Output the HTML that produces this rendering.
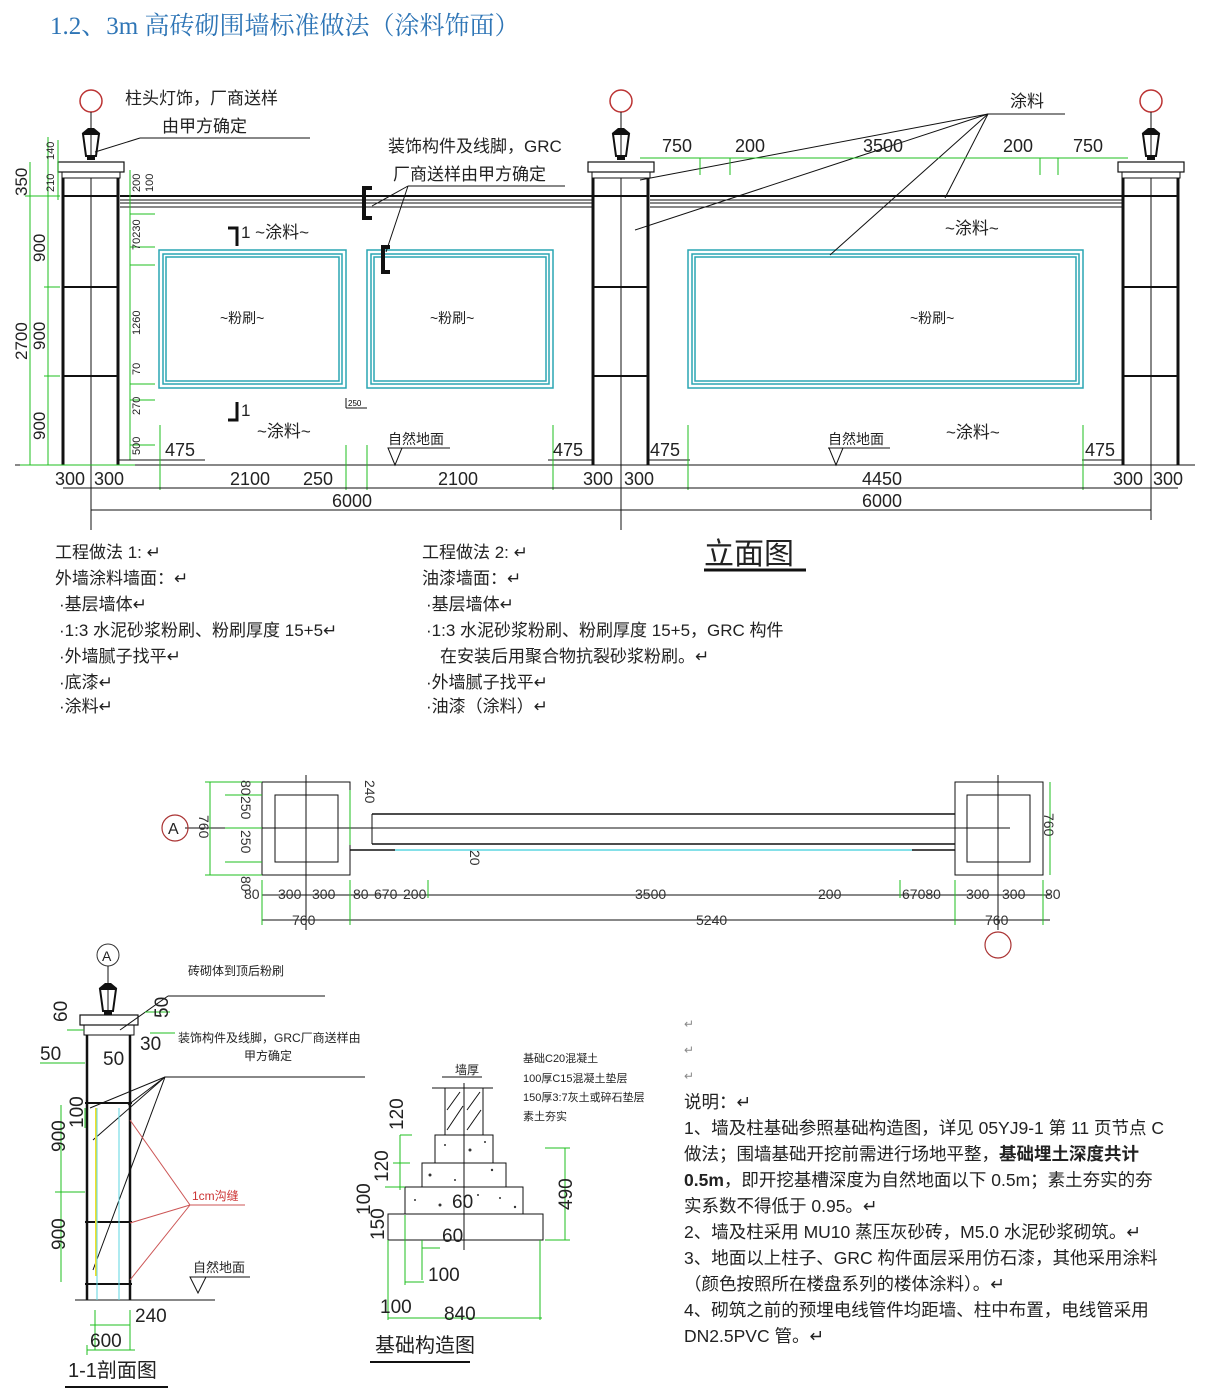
<!DOCTYPE html>
<html><head><meta charset="utf-8"><style>
html,body{margin:0;padding:0;background:#fff;}
svg{display:block;}
text{font-family:"Liberation Sans","Noto Sans CJK SC",sans-serif;}
.g{stroke:#1fbf1f;stroke-width:1;fill:none}
.k{stroke:#111;fill:none}
.c{stroke:#2aa6b3;fill:none;stroke-width:1.5}
.t{font-size:17px;fill:#222}
.d{font-size:18px;fill:#222}
.s{font-size:14px;fill:#222}
</style></head><body>
<svg width="1217" height="1397" viewBox="0 0 1217 1397" xmlns="http://www.w3.org/2000/svg">
<defs>
<g id="lampb">
<line x1="0" y1="-8" x2="0" y2="-2" stroke="#111"/>
<path d="M-3,-5 L3,-5 L9,0 L-9,0 Z" fill="#111"/>
<path d="M-8,1 L8,1 L5,23 L-5,23 Z" fill="none" stroke="#111" stroke-width="2"/>
<line x1="0" y1="1" x2="0" y2="23" stroke="#111"/>
<rect x="-4" y="23" width="8" height="4" fill="#111"/>
</g>
<g id="lamp">
<circle cx="0" cy="-32" r="11" fill="none" stroke="#b33" stroke-width="1.5"/>
<line x1="0" y1="-21" x2="0" y2="-2" stroke="#111"/>
<use href="#lampb"/>
</g>
</defs>

<text x="50" y="34" style="font-family:'Liberation Serif','Noto Serif CJK SC',serif;font-size:25px;fill:#2e75b6">1.2、3m 高砖砌围墙标准做法（涂料饰面）</text>

<!-- ELEVATION -->
<g>
<line x1="15" y1="465" x2="1195" y2="465" class="k"/>
<g class="k">
<line x1="120" y1="196" x2="592" y2="196" stroke-width="2"/>
<line x1="120" y1="200" x2="592" y2="200"/>
<line x1="120" y1="203" x2="592" y2="203"/>
<line x1="120" y1="207" x2="592" y2="207"/>
<line x1="650" y1="196" x2="1122" y2="196" stroke-width="2"/>
<line x1="650" y1="200" x2="1122" y2="200"/>
<line x1="650" y1="203" x2="1122" y2="203"/>
<line x1="650" y1="207" x2="1122" y2="207"/>
</g>
<g class="k">
<rect x="58" y="162" width="66" height="10" stroke-width="1.2"/>
<rect x="62" y="172" width="58" height="6"/>
<line x1="63" y1="178" x2="63" y2="465" stroke-width="3"/>
<line x1="118" y1="178" x2="118" y2="465" stroke-width="3"/>
<line x1="63" y1="196" x2="118" y2="196" stroke-width="2"/>
<line x1="63" y1="287" x2="118" y2="287" stroke-width="2"/>
<line x1="63" y1="376" x2="118" y2="376" stroke-width="2"/>
<line x1="91" y1="178" x2="91" y2="465"/>

<rect x="588" y="162" width="66" height="10" stroke-width="1.2"/>
<rect x="592" y="172" width="58" height="6"/>
<line x1="593" y1="178" x2="593" y2="465" stroke-width="3"/>
<line x1="648" y1="178" x2="648" y2="465" stroke-width="3"/>
<line x1="593" y1="196" x2="648" y2="196" stroke-width="2"/>
<line x1="593" y1="287" x2="648" y2="287" stroke-width="2"/>
<line x1="593" y1="376" x2="648" y2="376" stroke-width="2"/>
<line x1="621" y1="178" x2="621" y2="530"/>

<rect x="1118" y="162" width="66" height="10" stroke-width="1.2"/>
<rect x="1122" y="172" width="58" height="6"/>
<line x1="1123" y1="178" x2="1123" y2="465" stroke-width="3"/>
<line x1="1178" y1="178" x2="1178" y2="465" stroke-width="3"/>
<line x1="1123" y1="196" x2="1178" y2="196" stroke-width="2"/>
<line x1="1123" y1="287" x2="1178" y2="287" stroke-width="2"/>
<line x1="1123" y1="376" x2="1178" y2="376" stroke-width="2"/>
<line x1="1151" y1="178" x2="1151" y2="465"/>
<line x1="91" y1="465" x2="91" y2="530"/>
</g>
<use href="#lamp" x="91" y="133"/>
<use href="#lamp" x="621" y="133"/>
<use href="#lamp" x="1151" y="133"/>

<rect x="159" y="250" width="187" height="138" class="c"/>
<rect x="163" y="254" width="179" height="130" class="c" stroke-width="1"/>
<rect x="166" y="257" width="173" height="124" class="c"/>
<rect x="367" y="250" width="186" height="138" class="c"/>
<rect x="371" y="254" width="178" height="130" class="c" stroke-width="1"/>
<rect x="374" y="257" width="172" height="124" class="c"/>
<rect x="688" y="250" width="395" height="138" class="c"/>
<rect x="692" y="254" width="387" height="130" class="c" stroke-width="1"/>
<rect x="695" y="257" width="381" height="124" class="c"/>

<path d="M372,188 L364,188 L364,218 L372,218" class="k" stroke-width="4"/>
<path d="M390,247 L383,247 L383,272 L390,272" class="k" stroke-width="4"/>
<line x1="372" y1="206" x2="408" y2="186" class="k"/>
<line x1="386" y1="252" x2="408" y2="186" class="k"/>
<line x1="408" y1="186" x2="565" y2="186" class="k"/>
<text x="388" y="152" class="t">装饰构件及线脚，GRC</text>
<text x="393" y="180" class="t">厂商送样由甲方确定</text>

<text x="125" y="104" class="t">柱头灯饰，厂商送样</text>
<text x="162" y="132" class="t">由甲方确定</text>
<line x1="95" y1="152" x2="140" y2="138" class="k"/>
<line x1="140" y1="138" x2="310" y2="138" class="k"/>

<text x="1010" y="107" class="t">涂料</text>
<line x1="988" y1="114" x2="1065" y2="114" class="k"/>
<g class="k">
<line x1="988" y1="114" x2="640" y2="180"/>
<line x1="988" y1="114" x2="635" y2="230"/>
<line x1="988" y1="114" x2="830" y2="255"/>
<line x1="988" y1="114" x2="945" y2="198"/>
</g>

<path d="M228,228 L237,228 L237,246" class="k" stroke-width="3"/>
<path d="M228,420 L237,420 L237,402" class="k" stroke-width="3"/>
<text x="241" y="238" class="t">1 ~涂料~</text>
<text x="241" y="416" class="t">1</text>
<text x="257" y="437" class="t">~涂料~</text>
<text x="945" y="234" class="t">~涂料~</text>
<text x="946" y="438" class="t">~涂料~</text>
<text x="220" y="323" class="s">~粉刷~</text>
<text x="430" y="323" class="s">~粉刷~</text>
<text x="910" y="323" class="s">~粉刷~</text>

<text x="388" y="444" class="s">自然地面</text>
<line x1="388" y1="448" x2="450" y2="448" class="k"/>
<path d="M388,448 L402,448 L395,465 Z" class="k"/>
<text x="828" y="444" class="s">自然地面</text>
<line x1="828" y1="448" x2="890" y2="448" class="k"/>
<path d="M829,448 L843,448 L836,465 Z" class="k"/>

<line x1="346" y1="398" x2="346" y2="408" class="k"/>
<line x1="346" y1="408" x2="367" y2="408" class="k"/>
<text x="348" y="406" style="font-size:8px">250</text>

<g class="g">
<line x1="30" y1="162" x2="30" y2="465"/>
<line x1="48" y1="137" x2="48" y2="465"/>
<line x1="58" y1="140" x2="58" y2="200"/>
<line x1="130" y1="170" x2="130" y2="460"/>
<line x1="25" y1="196" x2="60" y2="196"/>
<line x1="44" y1="287" x2="60" y2="287"/>
<line x1="44" y1="376" x2="60" y2="376"/>
<line x1="130" y1="214" x2="155" y2="214"/>
<line x1="130" y1="247" x2="155" y2="247"/>
<line x1="130" y1="265" x2="155" y2="265"/>
<line x1="130" y1="384" x2="155" y2="384"/>
<line x1="130" y1="400" x2="155" y2="400"/>
<line x1="130" y1="445" x2="155" y2="445"/>
<line x1="20" y1="465" x2="135" y2="465"/>
</g>
<g style="font-size:17px;fill:#222">
<text transform="translate(27,196) rotate(-90)">350</text>
<text transform="translate(45,262) rotate(-90)">900</text>
<text transform="translate(27,360) rotate(-90)">2700</text>
<text transform="translate(45,350) rotate(-90)">900</text>
<text transform="translate(45,440) rotate(-90)">900</text>
</g>
<g style="font-size:11px;fill:#222">
<text transform="translate(54,160) rotate(-90)">140</text>
<text transform="translate(54,192) rotate(-90)">210</text>
<text transform="translate(140,192) rotate(-90)">200</text>
<text transform="translate(153,192) rotate(-90)">100</text>
<text transform="translate(140,250) rotate(-90)">70230</text>
<text transform="translate(140,335) rotate(-90)">1260</text>
<text transform="translate(140,375) rotate(-90)">70</text>
<text transform="translate(140,415) rotate(-90)">270</text>
<text transform="translate(140,455) rotate(-90)">500</text>
</g>

<g class="k">
<line x1="118" y1="460" x2="205" y2="460"/>
<line x1="548" y1="460" x2="593" y2="460"/>
<line x1="648" y1="460" x2="690" y2="460"/>
<line x1="1082" y1="460" x2="1123" y2="460"/>
</g>
<text x="165" y="456" class="d">475</text>
<text x="553" y="456" class="d">475</text>
<text x="650" y="456" class="d">475</text>
<text x="1085" y="456" class="d">475</text>

<g class="g">
<line x1="160" y1="425" x2="160" y2="490"/>
<line x1="346" y1="445" x2="346" y2="490"/>
<line x1="367" y1="445" x2="367" y2="490"/>
<line x1="553" y1="425" x2="553" y2="490"/>
<line x1="688" y1="425" x2="688" y2="490"/>
<line x1="1083" y1="425" x2="1083" y2="490"/>
<line x1="640" y1="158" x2="1128" y2="158"/>
<line x1="700" y1="158" x2="700" y2="175"/>
<line x1="730" y1="158" x2="730" y2="175"/>
<line x1="1040" y1="158" x2="1040" y2="175"/>
<line x1="1058" y1="158" x2="1058" y2="175"/>
</g>
<text x="662" y="152" class="d">750</text>
<text x="735" y="152" class="d">200</text>
<text x="863" y="152" class="d">3500</text>
<text x="1003" y="152" class="d">200</text>
<text x="1073" y="152" class="d">750</text>

<g class="k">
<line x1="63" y1="488" x2="1178" y2="488"/>
<line x1="91" y1="510" x2="1151" y2="510"/>
<line x1="1151" y1="465" x2="1151" y2="520"/>
</g>
<g class="d">
<text x="55" y="485">300</text><text x="94" y="485">300</text>
<text x="230" y="485">2100</text><text x="303" y="485">250</text>
<text x="438" y="485">2100</text>
<text x="583" y="485">300</text><text x="624" y="485">300</text>
<text x="862" y="485">4450</text>
<text x="1113" y="485">300</text><text x="1153" y="485">300</text>
<text x="332" y="507">6000</text>
<text x="862" y="507">6000</text>
</g>
</g>

<g style="font-size:17px;fill:#222">
<text x="55" y="558">工程做法 1: ↵</text>
<text x="55" y="584">外墙涂料墙面：↵</text>
<text x="59" y="610">·基层墙体↵</text>
<text x="59" y="636">·1:3 水泥砂浆粉刷、粉刷厚度 15+5↵</text>
<text x="59" y="662">·外墙腻子找平↵</text>
<text x="59" y="688">·底漆↵</text>
<text x="59" y="712">·涂料↵</text>
<text x="422" y="558">工程做法 2: ↵</text>
<text x="422" y="584">油漆墙面：↵</text>
<text x="426" y="610">·基层墙体↵</text>
<text x="426" y="636">·1:3 水泥砂浆粉刷、粉刷厚度 15+5，GRC 构件</text>
<text x="440" y="662">在安装后用聚合物抗裂砂浆粉刷。↵</text>
<text x="426" y="688">·外墙腻子找平↵</text>
<text x="426" y="712">·油漆（涂料）↵</text>
</g>
<text x="704" y="564" style="font-size:30px;fill:#222">立面图</text>
<line x1="704" y1="570" x2="806" y2="570" stroke="#111" stroke-width="3"/>

<!-- PLAN -->
<g class="k">
<rect x="262" y="782" width="88" height="93"/>
<rect x="275" y="795" width="63" height="67"/>
<rect x="955" y="782" width="88" height="93"/>
<rect x="967" y="795" width="63" height="67"/>
<line x1="306" y1="775" x2="306" y2="930"/>
<line x1="998" y1="775" x2="998" y2="930"/>
<line x1="185" y1="828" x2="1010" y2="828"/>
<line x1="372" y1="814" x2="955" y2="814" stroke-width="1.5"/>
<line x1="372" y1="844" x2="955" y2="844" stroke-width="1.5"/>
<line x1="372" y1="814" x2="372" y2="844"/>
<line x1="350" y1="850" x2="395" y2="850" stroke-width="1.5"/>
<line x1="912" y1="850" x2="955" y2="850" stroke-width="1.5"/>
<line x1="262" y1="895" x2="1050" y2="895"/>
<line x1="262" y1="920" x2="1050" y2="920"/>
</g>
<line x1="395" y1="850" x2="912" y2="850" stroke="#5cd6e0" stroke-width="1.5"/>
<circle cx="175" cy="828" r="13" fill="none" stroke="#a33" stroke-width="1.2"/>
<text x="168" y="834" style="font-size:16px;fill:#222">A</text>
<circle cx="998" cy="945" r="13" fill="none" stroke="#a33" stroke-width="1.2"/>
<g class="g">
<line x1="210" y1="782" x2="210" y2="875"/>
<line x1="205" y1="782" x2="262" y2="782"/>
<line x1="225" y1="795" x2="262" y2="795"/>
<line x1="225" y1="828" x2="262" y2="828"/>
<line x1="225" y1="862" x2="262" y2="862"/>
<line x1="205" y1="875" x2="262" y2="875"/>
<line x1="1050" y1="782" x2="1050" y2="875"/>
<line x1="350" y1="790" x2="350" y2="845"/>
<line x1="262" y1="880" x2="262" y2="925"/>
<line x1="350" y1="880" x2="350" y2="925"/>
<line x1="955" y1="880" x2="955" y2="925"/>
<line x1="1043" y1="880" x2="1043" y2="925"/>
<line x1="428" y1="880" x2="428" y2="898"/>
<line x1="900" y1="880" x2="900" y2="898"/>
</g>
<g style="font-size:14px;fill:#333">
<text transform="translate(241,780) rotate(90)">80</text>
<text transform="translate(241,796) rotate(90)">250</text>
<text transform="translate(241,830) rotate(90)">250</text>
<text transform="translate(241,876) rotate(90)">80</text>
<text transform="translate(199,815) rotate(90)">760</text>
<text transform="translate(365,780) rotate(90)">240</text>
<text transform="translate(470,850) rotate(90)">20</text>
<text transform="translate(1044,813) rotate(90)">760</text>
<text x="244" y="899">80</text><text x="278" y="899">300</text><text x="312" y="899">300</text>
<text x="353" y="899">80</text><text x="374" y="899">670</text><text x="403" y="899">200</text>
<text x="635" y="899">3500</text><text x="818" y="899">200</text>
<text x="902" y="899">67080</text><text x="966" y="899">300</text><text x="1002" y="899">300</text><text x="1045" y="899">80</text>
<text x="292" y="925">760</text><text x="696" y="925">5240</text><text x="985" y="925">760</text>
</g>

<!-- SECTION 1-1 -->
<circle cx="108" cy="955" r="11" fill="none" stroke="#333"/>
<text x="102" y="961" style="font-size:14px;fill:#222">A</text>
<line x1="108" y1="966" x2="108" y2="1000" stroke="#111"/>
<use href="#lampb" x="108" y="988"/>
<g class="k">
<rect x="80" y="1015" width="58" height="10" stroke-width="1.2"/>
<rect x="84" y="1025" width="50" height="10"/>
<line x1="87" y1="1035" x2="87" y2="1300" stroke-width="2.5"/>
<line x1="130" y1="1035" x2="130" y2="1300" stroke-width="2.5"/>
<line x1="85" y1="1103" x2="132" y2="1103" stroke-width="2"/>
<line x1="85" y1="1222" x2="132" y2="1222" stroke-width="2"/>
<line x1="85" y1="1284" x2="132" y2="1284" stroke-width="2"/>
<line x1="75" y1="1300" x2="215" y2="1300"/>
<line x1="168" y1="996" x2="325" y2="996"/>
<line x1="168" y1="996" x2="120" y2="1030"/>
<line x1="165" y1="1077" x2="365" y2="1077"/>
<line x1="165" y1="1077" x2="90" y2="1108"/>
<line x1="165" y1="1077" x2="93" y2="1140"/>
<line x1="165" y1="1077" x2="128" y2="1105"/>
<line x1="165" y1="1077" x2="93" y2="1270"/>
</g>
<line x1="96" y1="1108" x2="96" y2="1276" stroke="#f2e02a" stroke-width="2"/>
<line x1="97" y1="1108" x2="97" y2="1300" stroke="#5cd6e0"/>
<line x1="119" y1="1108" x2="119" y2="1300" stroke="#5cd6e0"/>
<g stroke="#c55" fill="none">
<line x1="190" y1="1205" x2="130" y2="1120"/>
<line x1="190" y1="1205" x2="130" y2="1223"/>
<line x1="190" y1="1205" x2="130" y2="1280"/>
<line x1="190" y1="1205" x2="245" y2="1205"/>
</g>
<text x="192" y="1200" style="font-size:12px;fill:#c33">1cm沟缝</text>
<text x="188" y="975" style="font-size:12px;fill:#222">砖砌体到顶后粉刷</text>
<text x="178" y="1042" style="font-size:12px;fill:#222">装饰构件及线脚，GRC厂商送样由</text>
<text x="244" y="1060" style="font-size:12px;fill:#222">甲方确定</text>
<text x="193" y="1272" style="font-size:13px;fill:#222">自然地面</text>
<line x1="190" y1="1277" x2="250" y2="1277" class="k"/>
<path d="M190,1277 L206,1277 L198,1293 Z" class="k"/>
<g class="g">
<line x1="61" y1="1105" x2="61" y2="1282"/>
<line x1="55" y1="1192" x2="85" y2="1192"/>
<line x1="85" y1="1128" x2="85" y2="1108"/>
<line x1="40" y1="1063" x2="85" y2="1063"/>
<line x1="67" y1="1030" x2="84" y2="1030"/>
<line x1="150" y1="1033" x2="175" y2="1033"/>
<line x1="95" y1="1310" x2="95" y2="1350"/>
<line x1="130" y1="1310" x2="130" y2="1350"/>
<line x1="87" y1="1345" x2="87" y2="1355"/>
<line x1="87" y1="1350" x2="135" y2="1350"/>
<line x1="90" y1="1325" x2="130" y2="1325"/>
<line x1="145" y1="1012" x2="170" y2="1012"/>
</g>
<g style="font-size:19px;fill:#222">
<text transform="translate(67,1022) rotate(-90)">60</text>
<text transform="translate(168,1018) rotate(-90)">50</text>
<text x="40" y="1060">50</text>
<text x="103" y="1065">50</text>
<text x="140" y="1050">30</text>
<text transform="translate(65,1152) rotate(-90)">900</text>
<text transform="translate(83,1128) rotate(-90)">100</text>
<text transform="translate(65,1250) rotate(-90)">900</text>
<text x="135" y="1322">240</text>
<text x="90" y="1347">600</text>
</g>
<text x="68" y="1377" style="font-size:20px;fill:#222">1-1剖面图</text>
<line x1="65" y1="1387" x2="168" y2="1387" stroke="#111" stroke-width="2"/>

<!-- FOUNDATION -->
<g class="k">
<line x1="442" y1="1077" x2="482" y2="1077"/>
<line x1="432" y1="1088" x2="493" y2="1088"/>
<rect x="445" y="1088" width="38" height="47"/>
<line x1="464" y1="1083" x2="464" y2="1250"/>
<rect x="435" y="1135" width="58" height="28"/>
<rect x="422" y="1163" width="84" height="24"/>
<rect x="405" y="1187" width="118" height="27"/>
<rect x="388" y="1214" width="155" height="26"/>
</g>
<g stroke="#111" stroke-width="1">
<line x1="447" y1="1110" x2="460" y2="1092"/><line x1="447" y1="1130" x2="463" y2="1106"/>
<line x1="467" y1="1110" x2="480" y2="1092"/><line x1="467" y1="1130" x2="481" y2="1110"/>
</g>
<g fill="#333">
<circle cx="445" cy="1145" r="1"/><circle cx="470" cy="1150" r="1.5"/><circle cx="485" cy="1142" r="1"/>
<circle cx="430" cy="1175" r="1.5"/><circle cx="455" cy="1180" r="1"/><circle cx="492" cy="1170" r="1.2"/>
<circle cx="415" cy="1200" r="1"/><circle cx="440" cy="1205" r="1.5"/><circle cx="500" cy="1198" r="1"/>
<circle cx="515" cy="1207" r="1.2"/><circle cx="478" cy="1195" r="1"/>
</g>
<text x="455" y="1074" style="font-size:12px;fill:#222">墙厚</text>
<g style="font-size:11px;fill:#222">
<text x="523" y="1062">基础C20混凝土</text>
<text x="523" y="1082">100厚C15混凝土垫层</text>
<text x="523" y="1101">150厚3:7灰土或碎石垫层</text>
<text x="523" y="1120">素土夯实</text>
</g>
<g class="g">
<line x1="400" y1="1135" x2="400" y2="1190"/>
<line x1="400" y1="1135" x2="412" y2="1135"/>
<line x1="393" y1="1163" x2="410" y2="1163"/>
<line x1="385" y1="1187" x2="405" y2="1187"/>
<line x1="565" y1="1148" x2="565" y2="1240"/>
<line x1="545" y1="1148" x2="570" y2="1148"/>
<line x1="545" y1="1240" x2="570" y2="1240"/>
<line x1="405" y1="1215" x2="405" y2="1285"/>
<line x1="422" y1="1240" x2="422" y2="1280"/>
<line x1="388" y1="1240" x2="388" y2="1320"/>
<line x1="540" y1="1240" x2="540" y2="1320"/>
<line x1="388" y1="1318" x2="542" y2="1318"/>
<line x1="405" y1="1282" x2="424" y2="1282"/>
<line x1="422" y1="1248" x2="440" y2="1248"/>
</g>
<g style="font-size:19px;fill:#222">
<text transform="translate(403,1130) rotate(-90)">120</text>
<text transform="translate(388,1182) rotate(-90)">120</text>
<text transform="translate(370,1215) rotate(-90)">100</text>
<text transform="translate(384,1240) rotate(-90)">150</text>
<text transform="translate(572,1210) rotate(-90)">490</text>
<text x="452" y="1208">60</text>
<text x="442" y="1242">60</text>
<text x="428" y="1281">100</text>
<text x="380" y="1313">100</text>
<text x="444" y="1320">840</text>
</g>
<text x="375" y="1352" style="font-size:20px;fill:#222">基础构造图</text>
<line x1="370" y1="1362" x2="470" y2="1362" stroke="#111" stroke-width="2"/>

<g style="font-size:12px;fill:#888">
<text x="684" y="1028">↵</text><text x="684" y="1054">↵</text><text x="684" y="1080">↵</text>
</g>
<g style="font-size:17.5px;fill:#222">
<text x="684" y="1108">说明：↵</text>
<text x="684" y="1134">1、墙及柱基础参照基础构造图，详见 05YJ9-1 第 11 页节点 C</text>
<text x="684" y="1160">做法；围墙基础开挖前需进行场地平整，<tspan font-weight="bold">基础埋土深度共计</tspan></text>
<text x="684" y="1186"><tspan font-weight="bold">0.5m</tspan>，即开挖基槽深度为自然地面以下 0.5m；素土夯实的夯</text>
<text x="684" y="1212">实系数不得低于 0.95。↵</text>
<text x="684" y="1238">2、墙及柱采用 MU10 蒸压灰砂砖，M5.0 水泥砂浆砌筑。↵</text>
<text x="684" y="1264">3、地面以上柱子、GRC 构件面层采用仿石漆，其他采用涂料</text>
<text x="684" y="1290">（颜色按照所在楼盘系列的楼体涂料）。↵</text>
<text x="684" y="1316">4、砌筑之前的预埋电线管件均距墙、柱中布置，电线管采用</text>
<text x="684" y="1342">DN2.5PVC 管。↵</text>
</g>
</svg>
</body></html>
